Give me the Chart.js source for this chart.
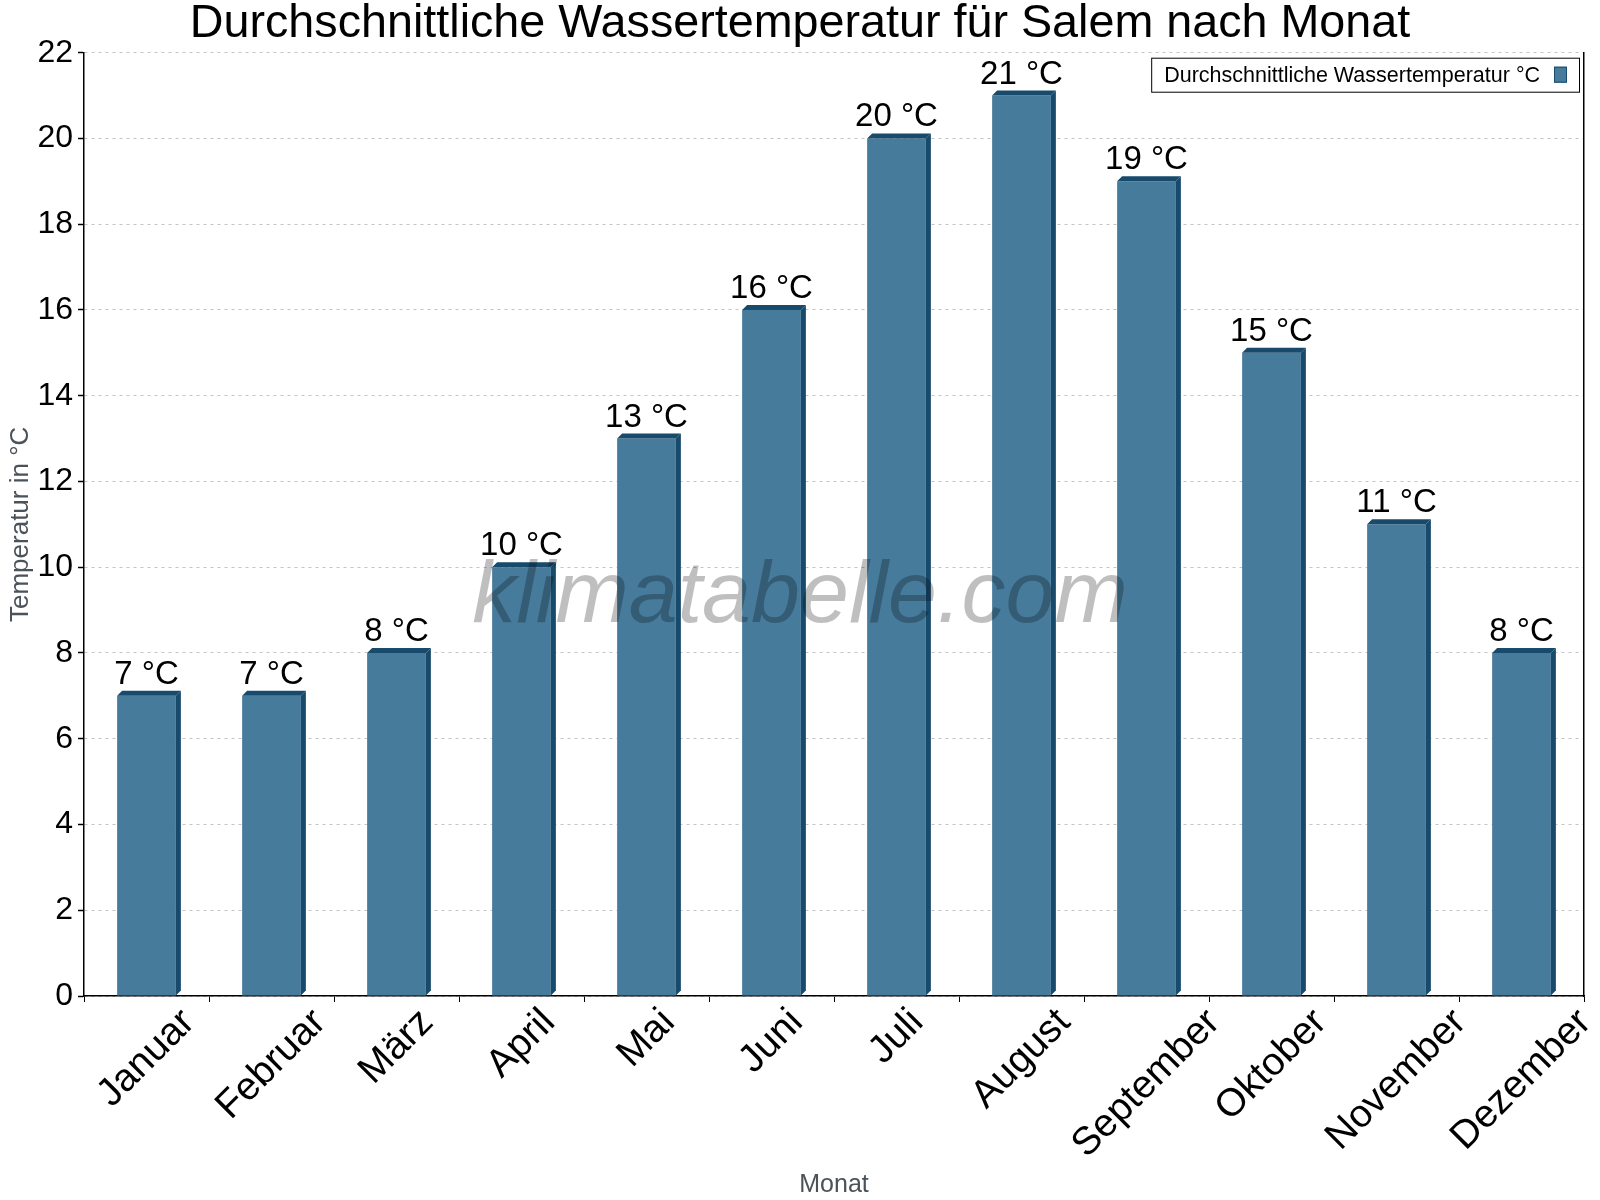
<!DOCTYPE html>
<html>
<head>
<meta charset="utf-8">
<script src="https://cdn.jsdelivr.net/npm/chart.js@4.4.1/dist/chart.umd.min.js"></script>
<style>
  html, body { margin: 0; padding: 0; background: #fff; }
  #wrap { width: 1600px; height: 1200px; }
</style>
</head>
<body>
<div id="wrap"><canvas id="chart" width="1600" height="1200"></canvas></div>
<script>
// --- DATA ---
const months = ['Januar', 'Februar', 'März', 'April', 'Mai', 'Juni', 'Juli', 'August', 'September', 'Oktober', 'November', 'Dezember'];
const waterTemp = [7, 7, 8, 10, 13, 16, 20, 21, 19, 15, 11, 8];
const yMin = 0;
const yMax = 22;
const yStep = 2;
const seriesLabel = 'Durchschnittliche Wassertemperatur °C';
const unit = ' °C';

const FONT = '"Liberation Sans", Arial, sans-serif';
const frontColor = '#467b9c';
const sideColor = '#184a6c';
const depth = 5; // 3D offset ng bars

// 3D faces, value labels, watermark, legend box
const barExtras = {
    id: 'barExtras',
    afterDatasetsDraw(chart) {
        const ctx = chart.ctx;
        const area = chart.chartArea;
        const meta = chart.getDatasetMeta(0);

        ctx.save();
        ctx.fillStyle = sideColor;
        meta.data.forEach(bar => {
            const l = bar.x - bar.width / 2;
            const r = bar.x + bar.width / 2;
            const t = bar.y;
            const b = bar.base;
            // top face
            ctx.beginPath();
            ctx.moveTo(l, t);
            ctx.lineTo(l + depth, t - depth);
            ctx.lineTo(r + depth, t - depth);
            ctx.lineTo(r, t);
            ctx.closePath();
            ctx.fill();
            // side face
            ctx.beginPath();
            ctx.moveTo(r, t);
            ctx.lineTo(r + depth, t - depth);
            ctx.lineTo(r + depth, b - depth);
            ctx.lineTo(r, b);
            ctx.closePath();
            ctx.fill();
        });

        // value labels
        ctx.fillStyle = '#000';
        ctx.font = '33px ' + FONT;
        ctx.textAlign = 'center';
        ctx.textBaseline = 'alphabetic';
        meta.data.forEach((bar, i) => {
            ctx.fillText(waterTemp[i] + unit, bar.x, bar.y - depth - 7);
        });

        // watermark
        ctx.font = 'italic 88px ' + FONT;
        ctx.fillStyle = 'rgba(0, 0, 0, 0.25)';
        ctx.textAlign = 'center';
        ctx.textBaseline = 'middle';
        ctx.fillText('klimatabelle.com', 800, 598);

        // legend
        ctx.font = '21.5px ' + FONT;
        const tw = ctx.measureText(seriesLabel).width;
        const boxRight = area.right - 5;
        const boxTop = area.top + 5;
        const boxH = 34;
        const swR = boxRight - 12;
        const swL = swR - 13;
        const txR = swL - 14;
        const txL = txR - tw;
        const boxL = txL - 13;
        ctx.fillStyle = '#fff';
        ctx.fillRect(boxL, boxTop, boxRight - boxL, boxH);
        ctx.lineWidth = 1;
        ctx.strokeStyle = '#000';
        ctx.strokeRect(boxL + 0.5, boxTop + 0.5, boxRight - boxL, boxH);
        ctx.fillStyle = '#000';
        ctx.textAlign = 'left';
        ctx.textBaseline = 'alphabetic';
        ctx.fillText(seriesLabel, txL, boxTop + 24);
        ctx.fillStyle = frontColor;
        ctx.fillRect(swL, boxTop + 9, 13, 16);
        ctx.strokeStyle = sideColor;
        ctx.strokeRect(swL + 0.5, boxTop + 9.5, 12, 15);
        ctx.restore();
    },
    // month labels: rotated 45°, centered on the category
    afterDraw(chart) {
        const ctx = chart.ctx;
        const xs = chart.scales.x;
        const fs = 39;
        const top = xs.top + 10;
        ctx.save();
        ctx.font = fs + 'px ' + FONT;
        ctx.fillStyle = '#000';
        ctx.textAlign = 'center';
        ctx.textBaseline = 'middle';
        xs.ticks.forEach((tick, i) => {
            const label = xs.getLabelForValue(tick.value);
            const L = ctx.measureText(label).width;
            const cx = xs.getPixelForTick(i);
            const cy = top + Math.SQRT1_2 * (L + fs * 0.75) / 2;
            ctx.save();
            ctx.translate(cx, cy);
            ctx.rotate(-Math.PI / 4);
            ctx.fillText(label, 0, 0);
            ctx.restore();
        });
        ctx.restore();
    }
};

new Chart(document.getElementById('chart'), {
    type: 'bar',
    data: {
        labels: months,
        datasets: [{
            label: seriesLabel,
            data: waterTemp,
            backgroundColor: frontColor,
            borderWidth: 0,
            barPercentage: 0.47,
            categoryPercentage: 1.0
        }]
    },
    options: {
        responsive: false,
        devicePixelRatio: 1,
        animation: false,
        layout: { padding: 0 },
        plugins: {
            legend: { display: false },
            tooltip: { enabled: false },
            title: {
                display: true,
                text: 'Durchschnittliche Wassertemperatur für Salem nach Monat',
                color: '#000',
                font: { family: FONT, size: 46.7, weight: 'normal', lineHeight: 1.0 },
                padding: { top: 1, bottom: 5 }
            }
        },
        scales: {
            x: {
                afterFit(scale) { scale.height = 204; },
                grid: {
                    display: true,
                    drawOnChartArea: false,
                    drawTicks: true,
                    tickLength: 6,
                    tickColor: '#000',
                    offset: true
                },
                border: { display: true, color: '#000', width: 1.5 },
                ticks: { display: false, autoSkip: false },
                title: {
                    display: true,
                    text: 'Monat',
                    color: '#4a525a',
                    font: { family: FONT, size: 25 },
                    padding: 0
                }
            },
            y: {
                min: yMin,
                max: yMax,
                afterFit(scale) { scale.width = 84; },
                grid: {
                    color: '#c4c4c4',
                    lineWidth: 1,
                    tickLength: 6,
                    tickColor: '#000',
                    tickWidth: 1.5
                },
                border: { display: true, color: '#000', width: 1.5, dash: [3, 4] },
                ticks: {
                    stepSize: yStep,
                    color: '#000',
                    font: { family: FONT, size: 32 },
                    padding: 5
                },
                title: {
                    display: true,
                    text: 'Temperatur in °C',
                    color: '#4a525a',
                    font: { family: FONT, size: 26 },
                    padding: { top: 5, bottom: 0 }
                }
            },
            // rechter Rahmen
            yRight: {
                type: 'linear',
                position: 'right',
                afterFit(scale) { scale.width = 16; },
                grid: { drawOnChartArea: false, drawTicks: false },
                border: { display: true, color: '#000', width: 1.5 },
                ticks: { display: false }
            }
        }
    },
    plugins: [barExtras]
});
</script>
</body>
</html>
